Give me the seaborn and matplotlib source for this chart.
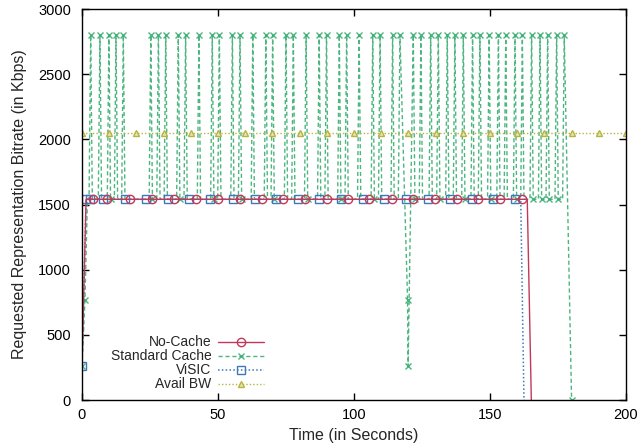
import numpy as np
import pandas as pd
import matplotlib
matplotlib.use('Agg')
import matplotlib.pyplot as plt
import seaborn as sns

# No-Cache series (seconds, Kbps)
nocache_t = [0, 1.5, 4.0, 9.2, 17.5, 25.6, 33.7, 41.8, 49.9, 58.0, 66.1, 74.0, 82.0,
             90.0, 97.9, 105.5, 113.9, 121.8, 129.8, 137.8, 145.7, 153.7, 161.7, 163.7, 165.2]
nocache_kbps = [260, 1540, 1540, 1540, 1540, 1540, 1540, 1540, 1540, 1540, 1540, 1540, 1540,
                1540, 1540, 1540, 1540, 1540, 1540, 1540, 1540, 1540, 1540, 1540, 0]

# ViSIC series
visic_t = [0, 1.5, 2.9, 7.8, 15.8, 23.5, 31.7, 39.4, 47.1, 55.6, 63.6, 71.3, 79.3, 87.2,
           95.2, 103.2, 111.1, 119.1, 127.3, 135.3, 143.3, 151.0, 159.2, 161.3, 162.5]
visic_kbps = [260, 1540, 1540, 1540, 1540, 1540, 1540, 1540, 1540, 1540, 1540, 1540, 1540, 1540,
              1540, 1540, 1540, 1540, 1540, 1540, 1540, 1540, 1540, 1540, 0]

# Standard Cache series
std_t = [0, 1.1, 2.0,
         2.6, 3.2, 3.8, 6.0, 6.6, 7.2, 9.3, 9.9, 10.5, 11.9, 12.5, 13.1, 14.6, 15.2, 15.8,
         24.7, 25.3, 25.9, 27.5, 28.1, 28.7, 30.2, 30.8, 31.4, 34.8, 35.4, 36.0,
         37.5, 38.1, 38.7, 42.4, 43.0, 43.6, 47.3, 47.9, 48.5, 49.9, 50.5, 51.1,
         54.7, 55.3, 55.9, 57.5, 58.1, 58.7, 62.2, 62.8, 63.4, 67.0, 67.6, 68.2,
         69.5, 70.1, 70.7, 74.4, 75.0, 75.6, 77.1, 77.7, 78.3, 81.8, 82.4, 83.0,
         86.6, 87.2, 87.8, 89.3, 89.9, 90.5, 94.0, 94.6, 95.2, 96.7, 97.3, 97.9,
         101.3, 101.9, 102.5, 106.3, 106.9, 107.5, 109.0, 109.6, 110.2, 113.6, 114.2, 114.8,
         116.3, 116.9, 119.7, 119.9, 121.8, 122.4,
         124.0, 124.6, 125.2, 127.6, 128.2, 128.8, 130.4, 131.0, 131.6, 133.7, 134.3, 134.9,
         136.5, 137.1, 137.7, 139.6, 140.2, 140.8, 143.0, 143.6, 144.2, 145.7, 146.3, 146.9,
         149.1, 149.7, 150.3, 152.5, 153.1, 153.7, 155.2, 155.8, 156.4, 158.6, 159.2, 159.8,
         161.3, 161.9, 162.5, 164.7, 165.3, 165.9, 167.8, 168.4, 169.0, 170.6, 171.2, 171.8,
         173.9, 174.5, 175.1, 176.7, 177.3, 180.0]
std_kbps = [260, 770, 1540,
            1540, 2800, 1540, 1540, 2800, 1540, 1540, 2800, 1540, 1540, 2800, 1540, 1540, 2800, 1540,
            1540, 2800, 1540, 1540, 2800, 1540, 1540, 2800, 1540, 1540, 2800, 1540,
            1540, 2800, 1540, 1540, 2800, 1540, 1540, 2800, 1540, 1540, 2800, 1540,
            1540, 2800, 1540, 1540, 2800, 1540, 1540, 2800, 1540, 1540, 2800, 1540,
            1540, 2800, 1540, 1540, 2800, 1540, 1540, 2800, 1540, 1540, 2800, 1540,
            1540, 2800, 1540, 1540, 2800, 1540, 1540, 2800, 1540, 1540, 2800, 1540,
            1540, 2800, 1540, 1540, 2800, 1540, 1540, 2800, 1540, 1540, 2800, 1540,
            1540, 2800, 770, 260, 2800, 1540,
            1540, 2800, 1540, 1540, 2800, 1540, 1540, 2800, 1540, 1540, 2800, 1540,
            1540, 2800, 1540, 1540, 2800, 1540, 1540, 2800, 1540, 1540, 2800, 1540,
            1540, 2800, 1540, 1540, 2800, 1540, 1540, 2800, 1540, 1540, 2800, 1540,
            1540, 2800, 1540, 1540, 2800, 1540, 1540, 2800, 1540, 1540, 2800, 1540,
            1540, 2800, 1540, 1540, 2800, 0]

# Available bandwidth
bw_t = [0, 10, 20, 30, 40, 50, 60, 70, 80, 90, 100, 110, 120, 130, 140, 150, 160, 170, 180, 190, 200]
bw_kbps = [2048] * len(bw_t)

x_ticks = [0, 50, 100, 150, 200]
y_ticks = [0, 500, 1000, 1500, 2000, 2500, 3000]

sns.set_style('ticks')
plt.rcParams['font.family'] = ['Liberation Sans', 'DejaVu Sans']

fig = plt.figure(figsize=(6.37, 4.46), dpi=100)
ax = fig.add_axes([0.1287, 0.1031, 0.8540, 0.8767])

red = '#c0395a'
green = '#3aae72'
blue = '#3e78b8'
olive = '#b8b440'

# crosses on every spike, only on some of the 1540 points (gnuplot-like density)
std_marks = []
n_bottom = 0
for i, v in enumerate(std_kbps):
    if v != 1540:
        std_marks.append(i)
    elif i > 0 and std_kbps[i - 1] == 2800:
        n_bottom += 1
        if n_bottom % 3 == 0 or std_t[i] > 163:
            std_marks.append(i)

# seaborn paints marker edges white by default, so set mec explicitly
std = pd.DataFrame({'t': std_t, 'kbps': std_kbps})
sns.lineplot(data=std, x='t', y='kbps', ax=ax, sort=False, estimator=None,
             color=green, ls=(0, (3, 2)), lw=1, marker='x', ms=5, mew=1, mec=green,
             markevery=std_marks, label='Standard Cache', alpha=0.9)

bw = pd.DataFrame({'t': bw_t, 'kbps': bw_kbps})
sns.lineplot(data=bw, x='t', y='kbps', ax=ax, sort=False, estimator=None,
             color=olive, ls=(0, (1, 1.5)), lw=1, marker='^', ms=5, mew=1, mec=olive,
             mfc='#e6e4b8', label='Avail BW')

vis = pd.DataFrame({'t': visic_t, 'kbps': visic_kbps})
sns.lineplot(data=vis, x='t', y='kbps', ax=ax, sort=False, estimator=None,
             color=blue, ls=(0, (1, 1.5)), lw=1.1, marker='s', ms=6, mew=1, mec=blue,
             mfc='none', markevery=list(range(len(visic_t) - 2)), label='ViSIC')

nc = pd.DataFrame({'t': nocache_t, 'kbps': nocache_kbps})
sns.lineplot(data=nc, x='t', y='kbps', ax=ax, sort=False, estimator=None,
             color=red, ls='-', lw=1, marker='o', ms=6, mew=1, mec=red,
             mfc='none', markevery=list(range(2, len(nocache_t) - 2)), label='No-Cache')

ax.set_xlim(0, 200)
ax.set_ylim(0, 3000)
ax.set_xticks(x_ticks)
ax.set_yticks(y_ticks)
ax.tick_params(direction='in', top=True, right=True, length=5, width=1,
               labelsize=10.5, colors='black')
ax.tick_params(axis='y', pad=8)
ax.tick_params(axis='x', pad=6)
for s in ax.spines.values():
    s.set_linewidth(1)
    s.set_color('black')
ax.set_xlabel('Time (in Seconds)', fontsize=11.5, labelpad=4)
ax.set_ylabel('Requested Representation Bitrate (in Kbps)', fontsize=11.5, labelpad=8)

handles, labels = ax.get_legend_handles_labels()
order = ['No-Cache', 'Standard Cache', 'ViSIC', 'Avail BW']
hmap = dict(zip(labels, handles))
leg = ax.legend([hmap[k] for k in order], order, loc='lower left',
                bbox_to_anchor=(0.03, -0.01), frameon=False, markerfirst=False,
                fontsize=10, handlelength=3.3, labelspacing=0.0, handletextpad=0.5)
for col in leg._legend_handle_box.get_children():
    col.align = 'right'

fig.savefig('out.png', dpi=100)
